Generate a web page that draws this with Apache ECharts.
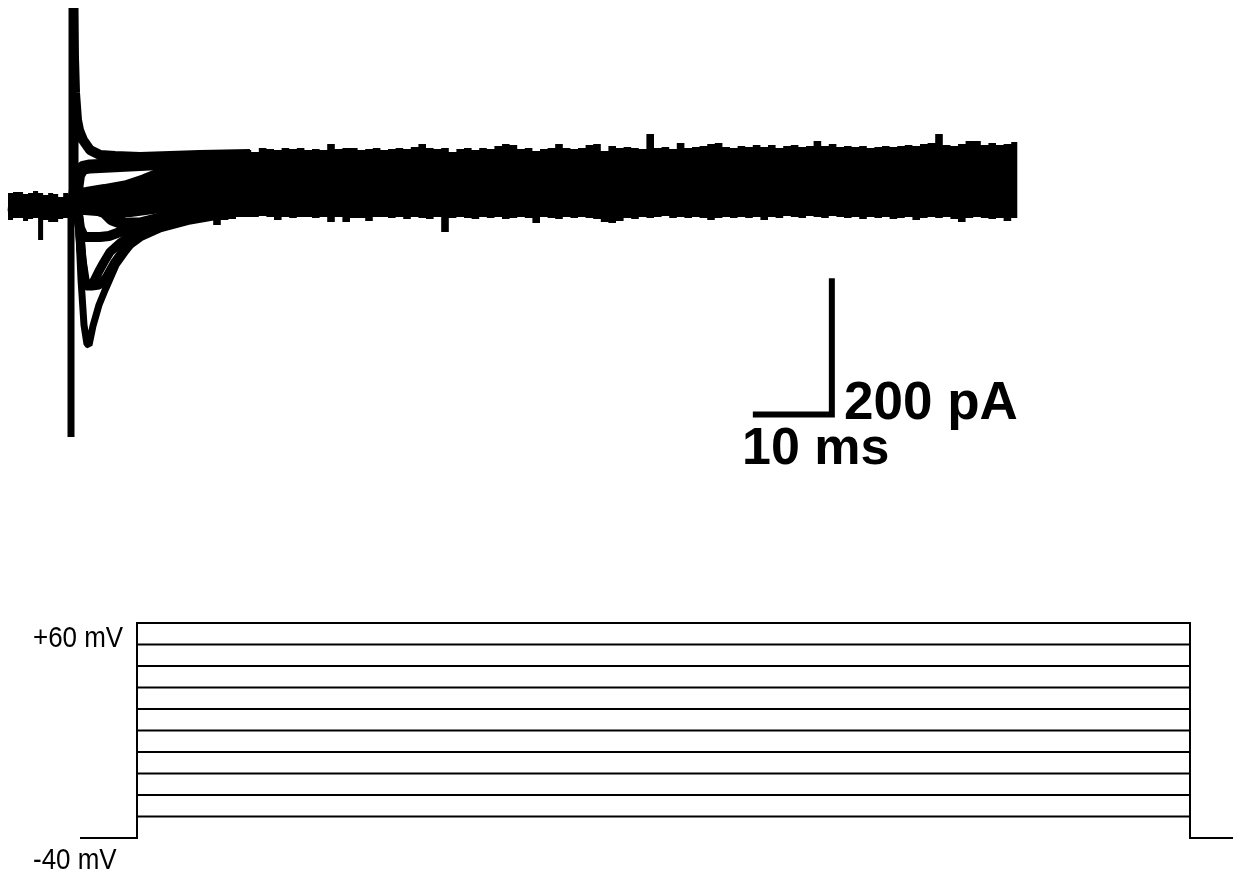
<!DOCTYPE html>
<html><head><meta charset="utf-8">
<script src="https://cdn.jsdelivr.net/npm/echarts@6/dist/echarts.min.js"></script>
<style>html,body{margin:0;padding:0;background:#fff}#c{width:1242px;height:874px}</style>
</head><body><div id="c"></div>
<script>
// ===== Top panel: whole-cell currents (time in ms, current in pA) =====
// noise band before the step (sampled every preBandDt ms)
const preBandDt = 0.66;
const preBandEnd = 8.1;
const preBandUpper = [20.5, 22, 22, 19, 20.5, 23.5, 20.5, 17.5, 20.5, 19, 14.5, 20.5, 19];
const preBandLower = [-20, -17, -17, -21.5, -18.5, -17, -50, -20, -23, -23, -18.5, -17, -17];

// merged noise band of all sweeps, steady state (sampled every bandDt ms from bandStart)
const bandStart = 25, bandDt = 1, bandEnd = 132.8;
const bandUpper = [
  80.5, 77.5, 79, 80.5, 82, 83.5, 85, 82, 88, 86.5,
  85, 88, 86.5, 88, 85, 86.5, 85, 94, 86.5, 88,
  88, 85, 86.5, 88, 85, 86.5, 88, 86.5, 89.5, 94,
  88, 86.5, 88, 82, 86.5, 88, 85, 88, 86.5, 91,
  94, 92.5, 86.5, 88, 83.5, 86.5, 88, 94, 88, 86.5,
  88, 92.5, 94, 83.5, 91, 88, 89.5, 88, 86.5, 109,
  88, 89.5, 86.5, 95.5, 88, 89.5, 91, 94, 95.5, 89.5,
  88, 91, 89.5, 92.5, 89.5, 92.5, 88, 91, 92.5, 89.5,
  91, 98.5, 91, 94, 89.5, 91, 89.5, 91, 88, 89.5,
  91, 89.5, 91, 92.5, 91, 94, 95.5, 109, 92.5, 91,
  94, 98.5, 98.5, 92.5, 95.5, 92.5, 94, 97
];
const bandLower = [
  -22.5, -20, -27.5, -20, -18.5, -15.5, -15.5, -15.5, -14, -15.5,
  -20, -15.5, -17, -15.5, -15.5, -17, -15.5, -23, -15.5, -23,
  -17, -17, -21.5, -15.5, -15.5, -17, -15.5, -18.5, -15.5, -17,
  -18.5, -15.5, -38, -17, -15.5, -17, -18.5, -15.5, -17, -15.5,
  -18.5, -17, -15.5, -17, -24.5, -15.5, -17, -18.5, -15.5, -17,
  -15.5, -17, -18.5, -23, -24.5, -21.5, -17, -18.5, -15.5, -17,
  -15.5, -14, -17, -15.5, -17, -15.5, -17, -20, -17, -15.5,
  -17, -15.5, -17, -15.5, -20, -15.5, -17, -14, -15.5, -17,
  -14, -15.5, -17, -14, -15.5, -17, -15.5, -18.5, -15.5, -17,
  -15.5, -18.5, -17, -15.5, -20, -17, -15.5, -17, -15.5, -18.5,
  -23, -17, -15.5, -17, -18.5, -17, -21.5, -17
];

// individual sweeps during the onset of the step: [ms, pA]
const sweepOut1 = [[0,2.5],[8.62,2.5],[8.62,298],[8.68,224.5],[8.82,170.5],[9.08,130],[9.34,115],[9.87,100],[10.79,85],[12.11,77.5],[14.08,76],[17.37,74.5],[21.32,76],[25.26,77.5],[31.84,79]];
const sweepOut2 = [[0,2.5],[8.68,2.5],[9.21,47.5],[9.74,58],[10.79,60.3],[13.42,61.8],[16.05,63.3],[20.0,65.5],[25.26,70],[31.84,73]];
const sweepOut3 = [[0,2.5],[8.95,2.5],[9.47,16],[10.39,17.5],[12.76,22],[15.66,28],[18.03,37],[20.0,46],[22.63,52],[25.26,56.5],[31.84,59.5]];
const sweepBase1 = [[0,2.5],[8.95,2.5],[10.13,11.5],[13.42,14.5],[16.05,17.5],[20.0,23.5],[25.26,34],[31.84,37]];
const sweepBase2 = [[0,-0.5],[8.95,-0.5],[10.13,-0.5],[13.42,-3.5],[16.05,-3.5],[20.0,2.5],[25.26,11.5],[31.84,16]];
const sweepIn1 = [[0,1],[8.95,-0.5],[11.45,-2],[12.76,-8],[13.68,-18.5],[15.39,-26],[17.37,-26],[20.0,-18.5],[23.95,-9.5],[31.84,-3.5]];
const sweepIn2 = [[0,1],[9.08,-2],[9.47,-32],[10.0,-45.5],[12.11,-45.5],[13.29,-44],[14.74,-38],[16.05,-32],[18.03,-26],[20.66,-18.5],[24.61,-11],[31.84,-5]];
const sweepIn3 = [[0,1],[9.21,-2],[9.61,-65],[10.0,-110],[10.53,-120.5],[11.32,-111.5],[11.97,-96.5],[12.63,-83],[13.42,-68],[14.74,-54.5],[16.71,-39.5],[19.34,-27.5],[23.29,-17],[27.89,-8],[31.84,-5]];
const sweepIn4 = [[0,1],[9.21,-2],[9.74,-80],[10.26,-119],[11.05,-119],[11.97,-117.5],[12.89,-107],[14.08,-83],[15.39,-62],[17.37,-45.5],[20.0,-32],[23.95,-20],[29.21,-9.5],[31.84,-6.5]];
const sweepIn5 = [[0,1],[8.29,1],[8.29,-345.5],[8.29,-5],[9.21,-8],[9.61,-110],[10.0,-177.5],[10.39,-206],[10.66,-207.5],[11.18,-179],[11.97,-147.5],[12.89,-122],[14.21,-87.5],[15.53,-66.5],[16.84,-47],[18.16,-39.5],[19.87,-29],[21.71,-24.5],[23.95,-17],[26.58,-9.5],[31.84,-5]];

// scale bar
const scaleBarOrigin = [98.4, -311.7];   // ms, pA
const scaleBarTime = 10;                 // ms
const scaleBarCurrent = 200;             // pA
const scaleBarTimeLabel = '10 ms';
const scaleBarCurrentLabel = '200 pA';

// ===== Bottom panel: voltage protocol (mV) =====
const holdingMv = -40;
const stepMv = [-30, -20, -10, 0, 10, 20, 30, 40, 50, 60];
const protoStart = 0, stepOn = 5.7, stepOff = 111.0, protoEnd = 115.3;
const topStepLabel = '+60 mV';
const holdingLabel = '-40 mV';

// ===== chart =====
const chart = echarts.init(document.getElementById('c'), null, {renderer: 'canvas'});

function bandSeries(t0, dt, tEnd, up, lo) {
  return {
    type: 'custom', coordinateSystem: 'cartesian2d', xAxisIndex: 0, yAxisIndex: 0,
    data: [[t0, 0]], silent: true, z: 5,
    renderItem: function (params, api) {
      const n = up.length;
      const tt = i => (i < n ? t0 + i * dt : tEnd);
      const pts = [];
      for (let i = 0; i < n; i++) { pts.push(api.coord([tt(i), up[i]])); pts.push(api.coord([tt(i + 1), up[i]])); }
      for (let i = n - 1; i >= 0; i--) { pts.push(api.coord([tt(i + 1), lo[i]])); pts.push(api.coord([tt(i), lo[i]])); }
      return {type: 'polygon', shape: {points: pts}, style: {fill: '#000'}};
    }
  };
}

const sweeps = [
  [sweepOut1, 10], [sweepOut2, 14], [sweepOut3, 16], [sweepBase1, 16], [sweepBase2, 16],
  [sweepIn1, 13], [sweepIn2, 10], [sweepIn3, 9], [sweepIn4, 9], [sweepIn5, 7]
];

const series = [];
sweeps.forEach(function (s) {
  series.push({
    type: 'line', xAxisIndex: 0, yAxisIndex: 0, data: s[0], symbol: 'none', silent: true,
    lineStyle: {color: '#000', width: s[1], join: 'bevel', cap: 'butt'}, z: 3
  });
});
series.push(bandSeries(0, preBandDt, preBandEnd, preBandUpper, preBandLower));
series.push(bandSeries(bandStart, bandDt, bandEnd, bandUpper, bandLower));
series.push({
  type: 'line', xAxisIndex: 0, yAxisIndex: 0, symbol: 'none', silent: true,
  data: [scaleBarOrigin, [scaleBarOrigin[0] + scaleBarTime, scaleBarOrigin[1]],
         [scaleBarOrigin[0] + scaleBarTime, scaleBarOrigin[1] + scaleBarCurrent]],
  lineStyle: {color: '#000', width: 6, join: 'miter', cap: 'square'}, z: 6
});
stepMv.forEach(function (v) {
  series.push({
    type: 'line', xAxisIndex: 1, yAxisIndex: 1, symbol: 'none', silent: true,
    data: [[protoStart, holdingMv], [stepOn, holdingMv], [stepOn, v], [stepOff, v], [stepOff, holdingMv], [protoEnd, holdingMv]],
    lineStyle: {color: '#000', width: 2, join: 'miter'}
  });
});

const lblFont = '"Liberation Sans", Arial, sans-serif';
chart.setOption({
  animation: false,
  backgroundColor: '#fff',
  grid: [
    {left: 8, top: 0, width: 1010, height: 440},
    {left: 80, top: 601.5, width: 1153, height: 258}
  ],
  xAxis: [
    {type: 'value', gridIndex: 0, min: 0, max: 1010 / 7.6, show: false},
    {type: 'value', gridIndex: 1, min: 0, max: 115.3, show: false}
  ],
  yAxis: [
    {type: 'value', gridIndex: 0, min: -350, max: 310, show: false},
    {type: 'value', gridIndex: 1, min: -50, max: 70, show: false}
  ],
  series: series,
  graphic: [
    {type: 'text', x: 844, y: 404, style: {text: scaleBarCurrentLabel, font: 'bold 53px ' + lblFont, fill: '#000', textAlign: 'left', textVerticalAlign: 'middle'}},
    {type: 'text', x: 742, y: 450, style: {text: scaleBarTimeLabel, font: 'bold 52px ' + lblFont, fill: '#000', textAlign: 'left', textVerticalAlign: 'middle'}},
    {type: 'text', x: 33, y: 639, scaleX: 0.865, style: {text: topStepLabel, font: '30px ' + lblFont, fill: '#000', textAlign: 'left', textVerticalAlign: 'middle'}},
    {type: 'text', x: 33, y: 861, scaleX: 0.865, style: {text: holdingLabel, font: '30px ' + lblFont, fill: '#000', textAlign: 'left', textVerticalAlign: 'middle'}}
  ]
});
</script>
</body></html>
